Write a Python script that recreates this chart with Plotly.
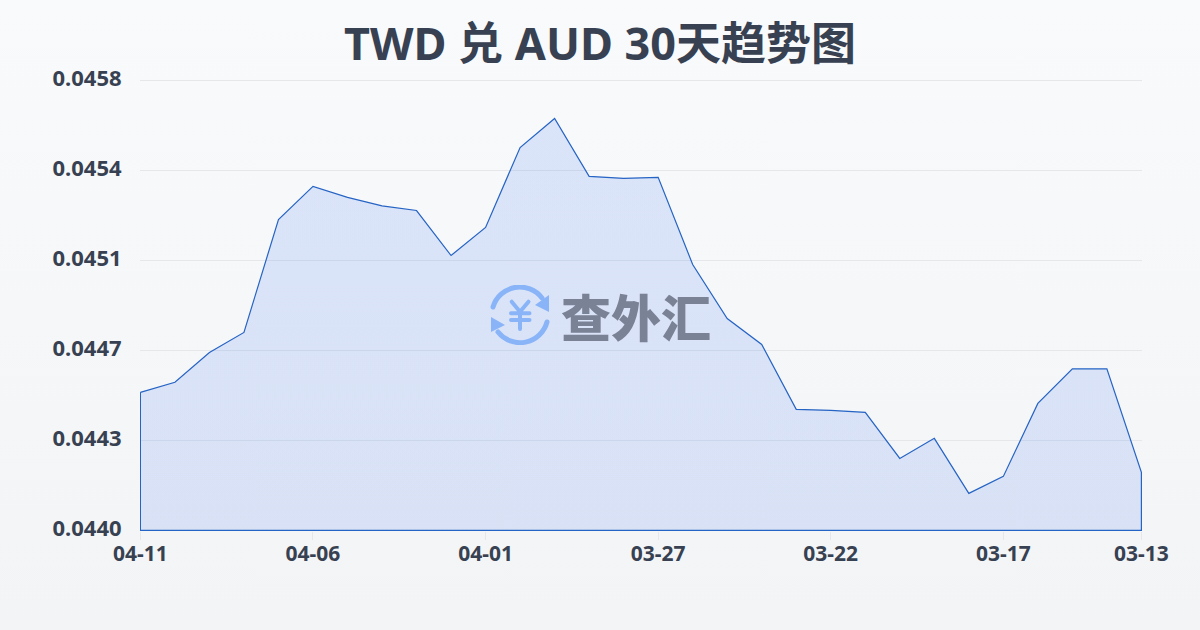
import base64
import plotly.graph_objects as go

dates = ["04-11","04-10","04-09","04-08","04-07","04-06","04-05","04-04","04-03","04-02",
         "04-01","03-31","03-30","03-29","03-28","03-27","03-26","03-25","03-24","03-23",
         "03-22","03-21","03-20","03-19","03-18","03-17","03-16","03-15","03-14","03-13"]
rates = [0.044537,0.044576,0.044692,0.044770,0.045209,0.045338,0.045295,0.045262,0.045244,0.045069,
         0.045178,0.045489,0.045602,0.045377,0.045369,0.045373,0.045034,0.044824,0.044723,0.044471,
         0.044467,0.044459,0.044280,0.044358,0.044144,0.044210,0.044494,0.044628,0.044628,0.044226]
y_ticks = [0.0440,0.04435,0.0447,0.04505,0.0454,0.04575]
y_labels = ["0.0440","0.0443","0.0447","0.0451","0.0454","0.0458"]
x_tick_dates = ["04-11","04-06","04-01","03-27","03-22","03-17","03-13"]
baseline = 0.0440
title = "TWD 兑 AUD 30天趋势图"
watermark = "查外汇"

FONT = "Noto Sans, Noto Sans CJK SC"
INK = "#374151"

# plot frame, in page pixels (plotly rounds margins to whole pixels)
L, R, T, B = 140, 1142, 78, 531
PW, PH = R - L, B - T
def px(x): return (x - L) / PW
def py(y): return (B - y) / PH

# sub-pixel offsets put the outline on pixel centres; headroom keeps the top
# tick's gridline and the last x tick from being dropped at the frame edge
x_unit = (len(dates) - 1) / 1001
y_unit = (y_ticks[-1] - baseline) / 450
x_range = [-0.4 * x_unit, len(dates) - 1 + 0.6 * x_unit]
y_range = [baseline - 0.6 * y_unit, y_ticks[-1] + 2.4 * y_unit]

def uri(svg):
    return "data:image/svg+xml;base64," + base64.b64encode(svg.encode()).decode()

bg_svg = ('<svg xmlns="http://www.w3.org/2000/svg" width="1200" height="630" preserveAspectRatio="none">'
          '<defs><linearGradient id="g" x1="0" y1="0" x2="0" y2="1">'
          '<stop offset="0" stop-color="#f8fafc"/><stop offset="1" stop-color="#f3f4f6"/>'
          '</linearGradient></defs><rect width="1200" height="630" fill="url(#g)"/></svg>')

icon_svg = ('<svg xmlns="http://www.w3.org/2000/svg" width="60" height="60" viewBox="0 0 60 60">'
            '<g fill="none" stroke="#8ab4f8" stroke-width="5" stroke-linecap="round" stroke-linejoin="round">'
            '<path d="M3 22 A28 28 0 0 1 52 13"/>'
            '<path d="M57 37 A28 28 0 0 1 8 47"/>'
            '<path d="M21.7 16.7 L30 26.7 L38.5 16.7 M21 28.3 H39.5 M21 35 H39.5 M30 26.7 V44" stroke-width="4"/>'
            '</g>'
            '<path d="M59 10 L59 27 L45 20 Z" fill="#8ab4f8"/>'
            '<path d="M1 32 L1 47 L15 40 Z" fill="#8ab4f8"/></svg>')

xs = list(range(len(dates)))

fig = go.Figure()
fig.add_trace(go.Scatter(
    x=xs + [xs[-1], xs[0], xs[0]],
    y=rates + [baseline, baseline, rates[0]],
    mode="lines",
    line=dict(color="#2563c4", width=1.2),
    fill="toself",
    fillgradient=dict(type="vertical",
                      colorscale=[[0, "rgba(37,99,235,0.131)"], [1, "rgba(37,99,235,0.137)"]]),
    hoverinfo="skip",
    showlegend=False,
    cliponaxis=False,
))

fig.update_layout(
    width=1200, height=630,
    margin=dict(l=L, r=1200 - R, t=T, b=630 - B),
    paper_bgcolor="rgba(0,0,0,0)",
    plot_bgcolor="rgba(0,0,0,0)",
    font=dict(family=FONT, color=INK),
    title=dict(text=f"<b>{title}</b>", x=0.5, xanchor="center", y=0.929, yanchor="middle",
               font=dict(size=45, family=FONT, color=INK)),
    xaxis=dict(
        range=x_range,
        tickmode="array",
        tickvals=[dates.index(d) for d in x_tick_dates],
        ticktext=[f"<b>{d}</b>" for d in x_tick_dates],
        tickfont=dict(size=21, family=FONT, color=INK),
        ticks="outside", ticklen=8, tickcolor="#e5e7eb", tickwidth=1,
        ticklabelstandoff=-4,
        showgrid=False, zeroline=False, showline=False,
    ),
    yaxis=dict(
        range=y_range,
        tickmode="array",
        tickvals=y_ticks,
        ticktext=[f"<b>{t}</b>" for t in y_labels],
        tickfont=dict(size=22, family=FONT, color=INK),
        ticks="outside", ticklen=13, tickcolor="rgba(0,0,0,0)",
        ticklabelshift=-2,
        showgrid=True, gridcolor="#e5e7eb", gridwidth=1,
        zeroline=False, showline=False,
    ),
    images=[
        dict(source=uri(bg_svg), xref="paper", yref="paper", x=px(0), y=py(0),
             sizex=1200/PW, sizey=630/PH, xanchor="left", yanchor="top",
             sizing="stretch", layer="below"),
        dict(source=uri(icon_svg), xref="paper", yref="paper", x=px(490), y=py(285),
             sizex=60/PW, sizey=60/PH, xanchor="left", yanchor="top",
             sizing="contain", layer="above"),
    ],
    annotations=[dict(
        text=watermark, xref="paper", yref="paper",
        x=px(636), y=py(315), xanchor="center", yanchor="middle",
        showarrow=False, font=dict(size=50, family="Noto Sans CJK SC", color="#7a8296", weight=900),
    )],
)

fig.write_html("out.html", config={"displayModeBar": False})
html = open("out.html", encoding="utf-8").read()
html = html.replace("<body>", '<body style="margin:0">', 1)
open("out.html", "w", encoding="utf-8").write(html)
